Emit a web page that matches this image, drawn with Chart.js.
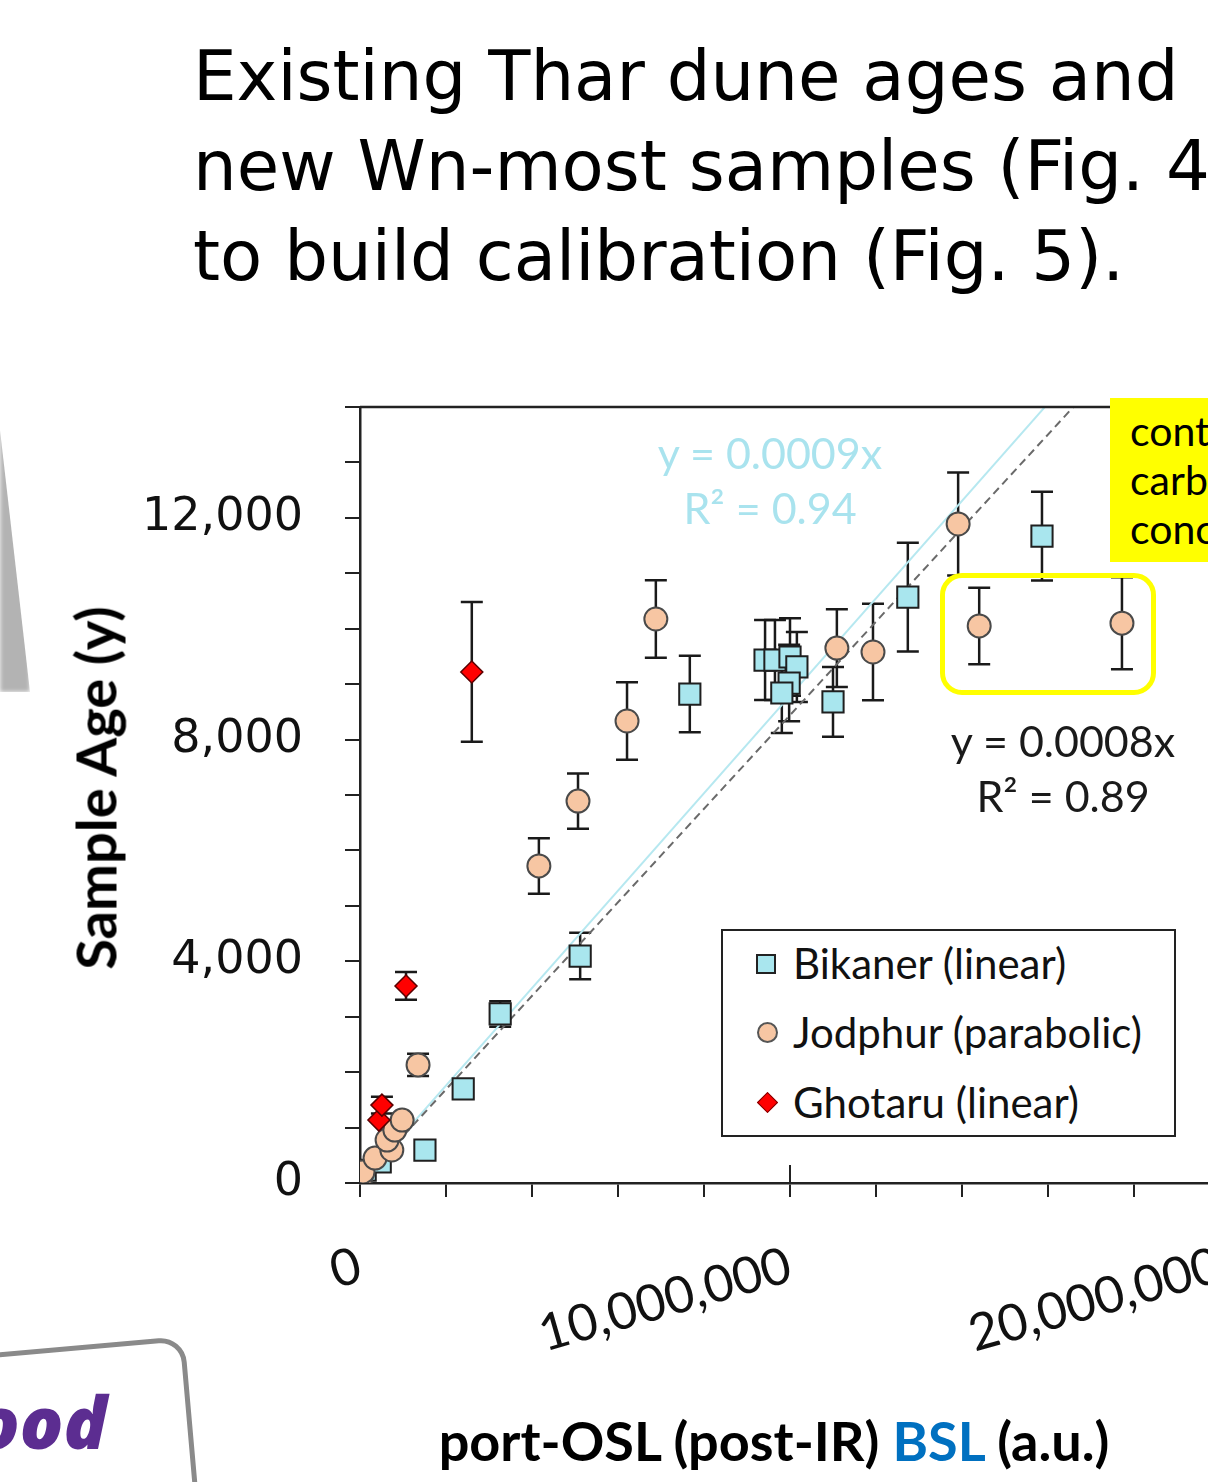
<!DOCTYPE html>
<html>
<head>
<meta charset="utf-8">
<script src="https://cdn.jsdelivr.net/npm/chart.js@4.4.0/dist/chart.umd.min.js"></script>
<style>
  html, body { margin: 0; padding: 0; background: #fff; }
  #page { position: relative; width: 1208px; height: 1482px; overflow: hidden; background: #fff; }
  .heading { position: absolute; left: 193px; top: 31px; font-family: "DejaVu Sans"; font-size: 69px; line-height: 90px; white-space: nowrap; color: #000; }
  .shade { position: absolute; left: 0; top: 430px; width: 30px; height: 262px; background: #b3b3b3; clip-path: polygon(0 0, 100% 100%, 0 100%); filter: blur(2px); }
  #wrap { position: absolute; left: 0; top: 380px; width: 1500px; height: 1000px; }
  .ytitle { position: absolute; left: 95px; top: 788px; transform: translate(-50%, -50%) rotate(-90deg); font-family: Lato; font-weight: bold; font-size: 56px; white-space: nowrap; color: #000; }
  .xtitle { position: absolute; left: 774px; top: 1440px; transform: translate(-50%, -50%); font-family: Lato; font-weight: bold; font-size: 54px; white-space: nowrap; color: #000; }
  .xtitle span { color: #0070c0; }
  .eq { position: absolute; transform: translateX(-50%); font-family: Lato; font-size: 43px; white-space: nowrap; line-height: 55px; text-align: center; }
  .eq.cyan { left: 770px; top: 425px; color: #a9e3ee; }
  .eq.dark { left: 1063px; top: 713px; color: #1a1a1a; }
  .legend { position: absolute; left: 721px; top: 929px; width: 451px; height: 204px; border: 2px solid #222; background: #fff; font-family: Lato; font-size: 42px; color: #111; }
  .legend .row { position: absolute; left: 70px; white-space: nowrap; line-height: 50px; }
  .legend .mk { position: absolute; box-sizing: border-box; }
  .mk.sq { left: 33px; top: 23px; width: 20px; height: 20px; background: #a9e6ee; border: 2px solid #222; }
  .mk.ci { left: 34px; top: 91px; width: 21px; height: 21px; border-radius: 50%; background: #f7c6a3; border: 2px solid #555; }
  .mk.di { left: 37px; top: 164px; width: 15px; height: 15px; background: #ff0000; border: 1px solid #700; transform: rotate(45deg); }
  .note { position: absolute; left: 1110px; top: 398px; width: 120px; height: 164px; background: #ffff00; font-family: Lato; font-size: 41px; line-height: 49px; padding: 8px 0 0 20px; box-sizing: border-box; color: #000; }
  .ring { position: absolute; left: 940px; top: 573px; width: 216px; height: 122px; border: 5px solid #ffff00; border-radius: 22px; box-sizing: border-box; }
  .tag { position: absolute; left: -90px; top: 1348px; width: 275px; height: 220px; border: 5px solid #8a8a8a; border-radius: 26px; transform: rotate(-5deg); background: #fff; }
  .tagtext { position: absolute; left: -24px; top: 1372px; font-family: "Open Sans"; font-weight: 800; font-style: italic; font-size: 72px; color: #5c2d91; white-space: nowrap; }
</style>
</head>
<body>
<div id="page">
  <div class="heading">Existing Thar dune ages and<br>new Wn-most samples (Fig. 4)<br>to build calibration (Fig. 5).</div>
  <div class="shade"></div>
  <div id="wrap"><canvas id="myChart" width="1500" height="1000"></canvas></div>
  <div class="ytitle">Sample Age (y)</div>
  <div class="xtitle">port-OSL (post-IR) <span>BSL</span> (a.u.)</div>
  <div class="eq cyan">y = 0.0009x<br>R² = 0.94</div>
  <div class="eq dark">y = 0.0008x<br>R² = 0.89</div>
  <div class="legend">
    <div class="mk sq"></div><div class="row" style="top:7px">Bikaner (linear)</div>
    <div class="mk ci"></div><div class="row" style="top:76px">Jodphur (parabolic)</div>
    <div class="mk di"></div><div class="row" style="top:146px">Ghotaru (linear)</div>
  </div>
  <div class="ring"></div>
  <div class="note">cont<br>carb<br>conc</div>
  <div class="tag"></div>
  <div class="tagtext">ood</div>
</div>

<script>
// data (x in a.u., y in years)

const bikanerX = [0.12e6, 0.47e6, 1.51e6, 2.40e6, 3.26e6, 5.12e6, 7.67e6, 9.42e6, 9.65e6, 10.0e6, 10.16e6, 9.98e6, 9.81e6, 11.0e6, 12.74e6, 15.86e6];
const bikanerY = [230, 380, 595, 1700, 3050, 4095, 8820, 9435, 9435, 9490, 9310, 9020, 8840, 8680, 10570, 11670];
const bikanerErr = [0, 0, 0, 0, 230, 420, 690, 720, 720, 700, 630, 690, 720, 630, 980, 800];

const jodphurX = [0.02e6, 0.07e6, 0.35e6, 0.74e6, 0.63e6, 0.81e6, 0.98e6, 1.35e6, 4.16e6, 5.07e6, 6.21e6, 6.88e6, 11.09e6, 11.93e6, 13.91e6, 14.40e6, 17.72e6];
const jodphurY = [90, 200, 450, 595, 775, 955, 1135, 2130, 5720, 6890, 8335, 10175, 9650, 9580, 11890, 10050, 10100];
const jodphurErr = [0, 0, 0, 0, 0, 0, 0, 200, 500, 500, 700, 700, 700, 870, 930, 690, 830];

const ghotaruX = [0.44e6, 0.51e6, 1.07e6, 2.60e6];
const ghotaruY = [1135, 1405, 3555, 9220];
const ghotaruErr = [0, 150, 250, 1260];

// trend lines through origin
const fitSlopes = [0.000879, 0.000844];
const fitEndX = 20e6;

const xTickLabels = [0, 10000000, 20000000];
const yTickLabels = [0, 4000, 8000, 12000];

function toPoints(xs, ys) {
  return xs.map((x, i) => ({ x: x, y: ys[i] }));
}

const errLists = [bikanerErr, jodphurErr, ghotaruErr];

const errorBars = {
  id: "errorBars",
  beforeDatasetsDraw(chart) {
    const c = chart.ctx;
    const xs = chart.scales.x;
    const ys = chart.scales.y;
    const area = chart.chartArea;
    c.save();
    c.beginPath();
    c.rect(area.left, area.top, area.right - area.left, area.bottom - area.top);
    c.clip();
    c.strokeStyle = "#1a1a1a";
    c.lineWidth = 2.5;
    errLists.forEach((errs, d) => {
      const pts = chart.data.datasets[d].data;
      pts.forEach((p, i) => {
        const e = errs[i];
        if (!e) return;
        const px = xs.getPixelForValue(p.x);
        const top = ys.getPixelForValue(p.y + e);
        const bot = ys.getPixelForValue(p.y - e);
        c.beginPath();
        c.moveTo(px, top);
        c.lineTo(px, bot);
        c.moveTo(px - 11, top);
        c.lineTo(px + 11, top);
        c.moveTo(px - 11, bot);
        c.lineTo(px + 11, bot);
        c.stroke();
      });
    });
    c.restore();
  },
  afterDraw(chart) {
    const c = chart.ctx;
    const area = chart.chartArea;
    const xs = chart.scales.x;
    c.save();
    c.strokeStyle = "#222";
    c.lineWidth = 2.5;
    // top frame line
    c.beginPath();
    c.moveTo(area.left, area.top);
    c.lineTo(area.right, area.top);
    c.stroke();
    // labelled x ticks cross the axis
    c.lineWidth = 2;
    xTickLabels.forEach((v) => {
      if (v === 0) return;
      const px = xs.getPixelForValue(v);
      c.beginPath();
      c.moveTo(px, area.bottom - 18);
      c.lineTo(px, area.bottom);
      c.stroke();
    });
    c.restore();
  },
};

const ctx = document.getElementById("myChart");

const chart = new Chart(ctx, {
  type: "scatter",
  data: {
    datasets: [
      {
        label: "Bikaner (linear)",
        data: toPoints(bikanerX, bikanerY),
        pointStyle: "rect",
        pointRadius: 15,
        backgroundColor: "#a9e6ee",
        borderColor: "#1f1f1f",
        borderWidth: 2,
        order: 3,
      },
      {
        label: "Jodphur (parabolic)",
        data: toPoints(jodphurX, jodphurY),
        pointStyle: "circle",
        pointRadius: 11.5,
        backgroundColor: "#f7c6a3",
        borderColor: "#4a4a4a",
        borderWidth: 2,
        order: 2,
      },
      {
        label: "Ghotaru (linear)",
        data: toPoints(ghotaruX, ghotaruY),
        pointStyle: "rectRot",
        pointRadius: 11,
        backgroundColor: "#ff0000",
        borderColor: "#5a0000",
        borderWidth: 1.5,
        order: 1,
      },
      {
        type: "line",
        label: "fit cyan",
        data: [{ x: 0, y: 0 }, { x: fitEndX, y: fitSlopes[0] * fitEndX }],
        borderColor: "#b6e8f0",
        borderWidth: 2,
        pointRadius: 0,
        order: 10,
      },
      {
        type: "line",
        label: "fit dashed",
        data: [{ x: 0, y: 0 }, { x: fitEndX, y: fitSlopes[1] * fitEndX }],
        borderColor: "#6a6a6a",
        borderWidth: 2,
        borderDash: [8, 5],
        pointRadius: 0,
        order: 9,
      },
    ],
  },
  options: {
    responsive: false,
    animation: false,
    layout: { padding: { top: 27, right: 22, left: 0, bottom: 0 } },
    plugins: { legend: { display: false }, tooltip: { enabled: false } },
    scales: {
      x: {
        type: "linear",
        min: 0,
        max: 26e6,
        border: { color: "#222", width: 2.5 },
        grid: { drawOnChartArea: false, drawTicks: true, tickLength: 14, color: "#222", lineWidth: 2 },
        ticks: {
          stepSize: 2e6,
          autoSkip: false,
          minRotation: 16,
          maxRotation: 16,
          padding: 38,
          color: "#111",
          font: { family: "Lato", size: 51 },
          callback: (v) => (xTickLabels.includes(v) ? v.toLocaleString("en-US") : ""),
        },
        afterFit: (s) => {
          s.height = 197;
          s.paddingLeft = 0;
          s.paddingRight = 0;
        },
      },
      y: {
        min: 0,
        max: 14000,
        border: { color: "#222", width: 2.5 },
        grid: { drawOnChartArea: false, drawTicks: true, tickLength: 15, color: "#222", lineWidth: 2 },
        ticks: {
          stepSize: 1000,
          autoSkip: false,
          padding: 42,
          color: "#111",
          font: { family: "DejaVu Sans", size: 46 },
          callback: (v) => (yTickLabels.includes(v) ? v.toLocaleString("en-US") : ""),
        },
        afterFit: (s) => {
          s.width = 360;
          s.paddingTop = 0;
          s.paddingBottom = 0;
        },
      },
    },
  },
  plugins: [errorBars],
});
</script>
</body>
</html>
